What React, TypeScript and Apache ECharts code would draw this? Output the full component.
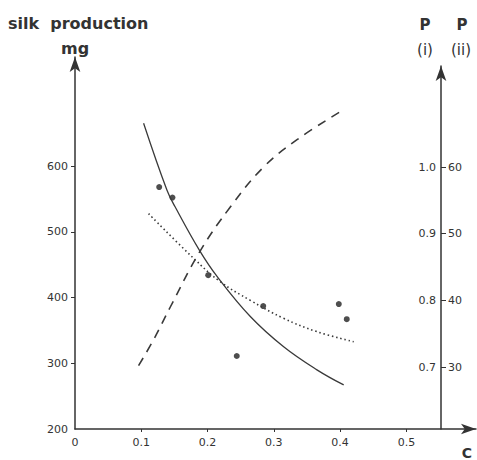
import React, { useEffect, useRef } from "react";
import * as echarts from "echarts";

// Observed points (concentration C, silk production mg)
const pointC = [0.127, 0.147, 0.201, 0.244, 0.284, 0.398, 0.41];
const pointMg = [568, 552, 434, 311, 387, 390, 367];

// Solid curve (silk production, mg)
const solidC = [0.1035, 0.1388, 0.151, 0.1876, 0.2143, 0.2645, 0.3148, 0.365, 0.4054];
const solidMg = [665, 563, 538, 472, 432, 371, 325, 290, 267];

// Dashed curve (P (i))
const dashC = [0.0959, 0.1186, 0.1438, 0.1876, 0.2343, 0.2846, 0.335, 0.4004];
const dashP = [0.702, 0.741, 0.79, 0.872, 0.94, 1.0, 1.041, 1.083];

// Dotted curve (P (ii))
const dotC = [0.111, 0.179, 0.219, 0.2645, 0.3148, 0.365, 0.4205];
const dotP = [53.0, 46.3, 42.8, 40.0, 37.3, 35.3, 33.8];

// Tick labels
const xTicks = [0, 0.1, 0.2, 0.3, 0.4, 0.5];
const mgTicks = [200, 300, 400, 500, 600];
const p2Ticks = [30, 40, 50, 60];
const p1Ticks = [0.7, 0.8, 0.9, 1.0];

const FONT = "DejaVu Sans";
const INK = "#333";
const X_MAX = 0.605;

const zip = (a: number[], b: number[]) => a.map((v, i) => [v, b[i]]);

export default function App() {
  const ref = useRef<HTMLDivElement>(null);
  useEffect(() => {
    const chart = echarts.init(ref.current!, null, { renderer: "svg" });
    const labelStyle = { fontFamily: FONT, fontSize: 11, color: INK };
    const arrowLine = {
      show: true,
      onZero: false,
      lineStyle: { color: INK, width: 1.5 },
      symbol: ["none", "arrow"],
      symbolSize: [8, 15],
    };
    chart.setOption({
      animation: false,
      backgroundColor: "#fff",
      grid: [
        { left: 75, right: 1, top: 57, bottom: 31, outerBoundsMode: "none" },
        { left: 75, right: 1, top: 66, bottom: 31, outerBoundsMode: "none" },
      ],
      xAxis: [
        {
          type: "value",
          gridIndex: 0,
          min: 0,
          max: X_MAX,
          splitLine: { show: false },
          axisLine: arrowLine,
          axisTick: { show: true, length: 3, customValues: [0.1, 0.2, 0.3, 0.4, 0.5], lineStyle: { color: INK } },
          axisLabel: {
            ...labelStyle,
            margin: 8,
            customValues: xTicks,
            formatter: (v: number) => (v === 0 ? "0" : v.toFixed(1)),
          },
        },
        {
          type: "value",
          gridIndex: 1,
          min: 0,
          max: X_MAX,
          show: false,
          axisLine: { onZero: false },
        },
      ],
      yAxis: [
        {
          type: "value",
          gridIndex: 0,
          min: 200,
          max: 765.8,
          position: "left",
          splitLine: { show: false },
          axisLine: arrowLine,
          axisTick: { show: true, length: 4, customValues: [300, 400, 500, 600], lineStyle: { color: INK } },
          axisLabel: { ...labelStyle, margin: 7, customValues: mgTicks },
        },
        {
          type: "value",
          gridIndex: 1,
          min: 20.7,
          max: 75.15,
          position: "right",
          offset: -35,
          splitLine: { show: false },
          axisLine: arrowLine,
          axisTick: { show: true, length: 5, customValues: p2Ticks, lineStyle: { color: INK } },
          axisLabel: { ...labelStyle, margin: 7, customValues: p2Ticks },
        },
        {
          type: "value",
          gridIndex: 1,
          min: 0.607,
          max: 1.1515,
          position: "right",
          offset: -35,
          splitLine: { show: false },
          axisLine: { show: false, onZero: false },
          axisTick: { show: false },
          axisLabel: {
            ...labelStyle,
            inside: true,
            margin: 5,
            customValues: p1Ticks,
            formatter: (v: number) => v.toFixed(1),
          },
        },
      ],
      series: [
        {
          type: "line",
          name: "silk production",
          xAxisIndex: 0,
          yAxisIndex: 0,
          data: zip(solidC, solidMg),
          smooth: 0.4,
          symbol: "none",
          lineStyle: { color: "#3a3a3a", width: 1.3 },
        },
        {
          type: "line",
          name: "P (i)",
          xAxisIndex: 1,
          yAxisIndex: 2,
          data: zip(dashC, dashP),
          smooth: 0.4,
          symbol: "none",
          lineStyle: { color: "#3a3a3a", width: 1.6, type: [9, 7] },
        },
        {
          type: "line",
          name: "P (ii)",
          xAxisIndex: 1,
          yAxisIndex: 1,
          data: zip(dotC, dotP),
          smooth: 0.4,
          symbol: "none",
          lineStyle: { color: "#3a3a3a", width: 1.6, type: [1.5, 2.8] },
        },
        {
          type: "scatter",
          name: "observed",
          xAxisIndex: 0,
          yAxisIndex: 0,
          data: zip(pointC, pointMg),
          symbol: "circle",
          symbolSize: 6,
          itemStyle: { color: "#222" },
        },
      ],
      graphic: [
        { type: "text", left: 8, top: 15, style: { text: "silk  production", font: `bold 16px "${FONT}"`, fill: INK } },
        { type: "text", left: 61, top: 40, style: { text: "mg", font: `bold 16px "${FONT}"`, fill: INK } },
        { type: "text", x: 425, y: 25, style: { text: "P", font: `bold 15px "${FONT}"`, fill: INK, align: "center", verticalAlign: "middle" } },
        { type: "text", x: 462, y: 25, style: { text: "P", font: `bold 15px "${FONT}"`, fill: INK, align: "center", verticalAlign: "middle" } },
        { type: "text", x: 425, y: 50, style: { text: "(i)", font: `15px "${FONT}"`, fill: INK, align: "center", verticalAlign: "middle" } },
        { type: "text", x: 461, y: 50, style: { text: "(ii)", font: `15px "${FONT}"`, fill: INK, align: "center", verticalAlign: "middle" } },
        { type: "text", x: 467, y: 453, style: { text: "C", font: `bold 14px "${FONT}"`, fill: INK, align: "center", verticalAlign: "middle" } },
      ],
    });
    return () => chart.dispose();
  }, []);
  return (
    <div
      ref={ref}
      style={{ position: "fixed", left: 0, top: 0, width: 477, height: 460, background: "#fff" }}
    />
  );
}
